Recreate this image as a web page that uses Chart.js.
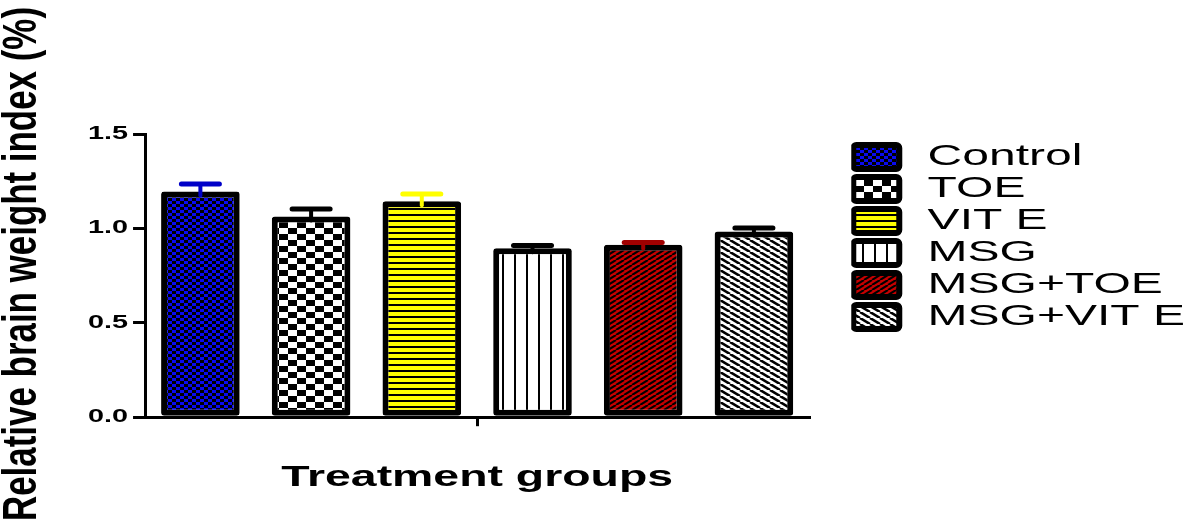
<!DOCTYPE html>
<html>
<head>
<meta charset="utf-8">
<title>Relative brain weight index</title>
<script src="https://cdn.jsdelivr.net/npm/chart.js@4.4.1/dist/chart.umd.min.js"></script>
<style>
  body { margin: 0; background: #fff; }
  canvas { display: block; }
</style>
</head>
<body>
<canvas id="chart1" width="1197" height="527"></canvas>
<script>
////////////////////////////////////////////// DATA \\\\\\\\\\\\\\\\\\\\\\\\\\\\\\\\\\\\\\\\\\\\\\

const groups = ['Control', 'TOE', 'VIT E', 'MSG', 'MSG+TOE', 'MSG+VIT E'];
const means = [1.195, 1.063, 1.144, 0.895, 0.913, 0.984];
const sems = [0.04, 0.04, 0.038, 0.015, 0.012, 0.018];
const capColors = ['#0000c8', '#000000', '#ffff00', '#000000', '#a00000', '#000000'];

const yTicks = [0, 0.5, 1.0, 1.5];
const xTitle = 'Treatment groups';
const yTitle = 'Relative brain weight index (%)';

////////////////////////////////////////////// CANVAS \\\\\\\\\\\\\\\\\\\\\\\\\\\\\\\\\\\\\\\\\\\\

const canvas = document.getElementById('chart1');
const ctx = canvas.getContext('2d');

// the text in the original figure is stretched sideways, so all labels get the same stretch
const textStretch = 1.6;
const plainFillText = ctx.fillText.bind(ctx);
const plainMeasureText = ctx.measureText.bind(ctx);

ctx.fillText = function (text, x, y) {
  ctx.save();
  ctx.translate(x, y);
  ctx.scale(textStretch, 1);
  plainFillText(text, 0, 0);
  ctx.restore();
};

ctx.measureText = function (text) {
  const m = plainMeasureText(text);
  return {
    width: m.width * textStretch,
    actualBoundingBoxAscent: m.actualBoundingBoxAscent,
    actualBoundingBoxDescent: m.actualBoundingBoxDescent
  };
};

////////////////////////////////////////////// PATTERNS \\\\\\\\\\\\\\\\\\\\\\\\\\\\\\\\\\\\\\\\\\

function makePattern(w, h, paint) {
  const tile = document.createElement('canvas');
  tile.width = w;
  tile.height = h;
  paint(tile.getContext('2d'), w, h);
  return ctx.createPattern(tile, 'repeat');
}

function checker(w, h, base, dark) {
  return makePattern(w, h, (t) => {
    t.fillStyle = base;
    t.fillRect(0, 0, w, h);
    t.fillStyle = dark;
    t.fillRect(0, 0, w / 2, h / 2);
    t.fillRect(w / 2, h / 2, w / 2, h / 2);
  });
}

function diagonal(w, h, base, lw, rising) {
  return makePattern(w, h, (t) => {
    t.fillStyle = base;
    t.fillRect(0, 0, w, h);
    t.strokeStyle = '#000';
    t.lineWidth = lw;
    for (let k = -1; k <= 1; k++) {
      t.beginPath();
      if (rising) {
        t.moveTo(k * w, h);
        t.lineTo(k * w + w, 0);
      } else {
        t.moveTo(k * w, 0);
        t.lineTo(k * w + w, h);
      }
      t.stroke();
    }
  });
}

const fills = [
  checker(8, 6, '#0a0af0', '#000'),
  checker(18, 12, '#ffffff', '#000'),
  makePattern(6, 6, (t) => {
    t.fillStyle = '#ffff00';
    t.fillRect(0, 0, 6, 6);
    t.fillStyle = '#000';
    t.fillRect(0, 4, 6, 2);
  }),
  makePattern(12, 6, (t) => {
    t.fillStyle = '#ffffff';
    t.fillRect(0, 0, 12, 6);
    t.fillStyle = '#000';
    t.fillRect(10, 0, 2.5, 6);
  }),
  diagonal(8, 5, '#c80000', 2.1, true),
  diagonal(10, 6, '#ffffff', 2.6, false)
];

////////////////////////////////////////////// PLUGINS \\\\\\\\\\\\\\\\\\\\\\\\\\\\\\\\\\\\\\\\\\

// SEM bars: stem from the bar top up to a round-ended cap
const errorBars = {
  id: 'errorBars',
  afterDatasetsDraw(chart) {
    const c = chart.ctx;
    const yScale = chart.scales.y;
    c.save();
    c.lineCap = 'round';
    chart.data.datasets.forEach((ds, i) => {
      const bar = chart.getDatasetMeta(i).data[0];
      const top = yScale.getPixelForValue(means[i] + sems[i]);
      c.strokeStyle = capColors[i];
      c.lineWidth = 4;
      c.beginPath();
      c.moveTo(bar.x, bar.y + 4);
      c.lineTo(bar.x, top);
      c.stroke();
      c.lineWidth = 5;
      c.beginPath();
      c.moveTo(bar.x - 19, top);
      c.lineTo(bar.x + 19, top);
      c.stroke();
    });
    c.restore();
  }
};

// legend sits a bit away from the end of the x axis and a bit lower
const legendGap = {
  id: 'legendGap',
  afterLayout(chart) {
    chart.legend.left += 42;
    chart.legend.right += 42;
    chart.legend.top += 6;
    chart.legend.bottom += 6;
  }
};

// vertical axis title, squeezed along its length like the original
const yAxisTitle = {
  id: 'yAxisTitle',
  afterDraw(chart) {
    const c = chart.ctx;
    c.save();
    c.font = 'bold 30px "Liberation Sans", Arial, sans-serif';
    c.fillStyle = '#000';
    c.textAlign = 'center';
    c.textBaseline = 'middle';
    const w = plainMeasureText(yTitle).width;
    c.translate(23, 264);
    c.rotate(-Math.PI / 2);
    c.scale(514 / w, 1.6);
    plainFillText(yTitle, 0, 0);
    c.restore();
  }
};

////////////////////////////////////////////// CHART JS \\\\\\\\\\\\\\\\\\\\\\\\\\\\\\\\\\\\\\\\\

Chart.defaults.font.family = '"Liberation Sans", Arial, sans-serif';
Chart.defaults.color = '#000';

let dataSets = [];
for (let i = 0; i < groups.length; i++) {
  dataSets.push({
    label: groups[i],
    data: [means[i]],
    backgroundColor: fills[i],
    borderColor: '#000',
    borderWidth: 6,
    borderRadius: 3,
    borderSkipped: false,
    categoryPercentage: 1.0,
    barPercentage: 0.71
  });
}

const config = {
  type: 'bar',
  data: {
    labels: [''],
    datasets: dataSets
  },
  options: {
    responsive: false,
    animation: false,
    layout: {
      padding: { left: 83, top: 134, right: 44, bottom: 32 }
    },
    plugins: {
      tooltip: { enabled: false },
      legend: {
        position: 'right',
        align: 'start',
        fullSize: false,
        maxWidth: 420,
        labels: {
          boxWidth: 46,
          boxHeight: 24,
          padding: 2,
          useBorderRadius: true,
          borderRadius: 3,
          color: '#000',
          font: { size: 30 },
          // a leading space gives the wider gap between swatch and name
          generateLabels: (chart) =>
            Chart.defaults.plugins.legend.labels.generateLabels(chart).map((item) => {
              item.text = ' ' + item.text;
              return item;
            })
        }
      }
    },
    scales: {
      x: {
        grid: {
          display: true,
          drawOnChartArea: false,
          offset: false,
          tickLength: 9,
          lineWidth: 3,
          color: '#000'
        },
        border: { display: true, width: 3, color: '#000' },
        ticks: { display: false },
        title: {
          display: true,
          text: xTitle,
          color: '#000',
          font: { size: 29, weight: 'bold' },
          padding: { top: 34, bottom: 0 }
        }
      },
      y: {
        min: 0,
        max: 1.5,
        afterBuildTicks: (scale) => {
          scale.ticks = yTicks.map((v) => ({ value: v }));
        },
        grid: {
          display: true,
          drawOnChartArea: false,
          tickLength: 12,
          lineWidth: 3,
          color: '#000'
        },
        border: { display: true, width: 3, color: '#000' },
        ticks: {
          padding: 5,
          color: '#000',
          font: { size: 18, weight: 'bold' },
          callback: (v) => Number(v).toFixed(1)
        }
      }
    }
  },
  plugins: [errorBars, legendGap, yAxisTitle]
};

const myChart = new Chart(ctx, config);
</script>
</body>
</html>
